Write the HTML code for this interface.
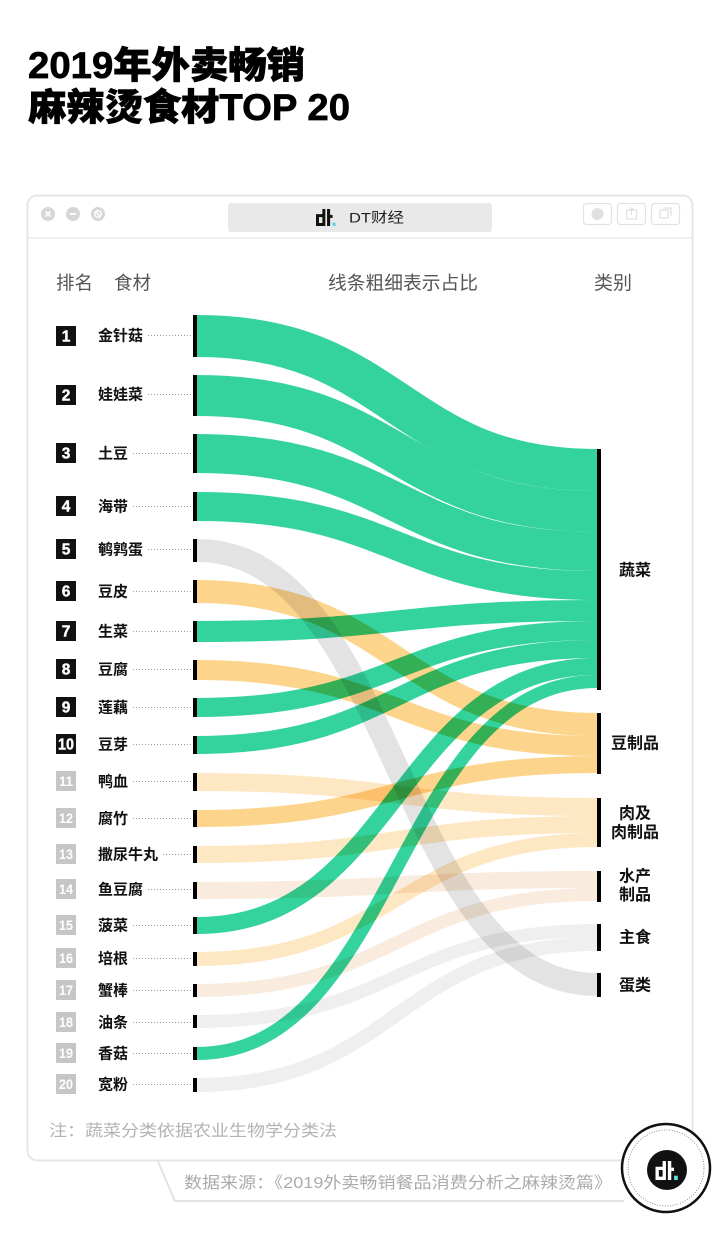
<!DOCTYPE html>
<html>
<head>
<meta charset="utf-8">
<style>
  html,body{margin:0;padding:0;background:#fff;}
  svg{display:block;}
  text{font-family:"Liberation Sans","Noto Sans CJK SC",sans-serif;}
</style>
</head>
<body>
<svg width="720" height="1235" viewBox="0 0 720 1235" xmlns="http://www.w3.org/2000/svg">
  <rect x="0" y="0" width="720" height="1235" fill="#fff"/>

  <!-- Title -->
  <text x="28" y="78" font-size="37" font-weight="900" fill="#000" stroke="#000" stroke-width="0.7" textLength="277" lengthAdjust="spacingAndGlyphs">2019年外卖畅销</text>
  <text x="28" y="120" font-size="37" font-weight="900" fill="#000" stroke="#000" stroke-width="0.7" textLength="322" lengthAdjust="spacingAndGlyphs">麻辣烫食材TOP 20</text>

  <!-- Window frame -->
  <rect x="27.5" y="195.5" width="665" height="965" rx="10" ry="10" fill="#fff" stroke="#e6e6e6" stroke-width="2"/>
  <line x1="28.5" y1="238" x2="691.5" y2="238" stroke="#ececec" stroke-width="1.5"/>

  <!-- traffic lights -->
  <g>
    <circle cx="48" cy="214" r="7" fill="#d6d6d6"/>
    <path d="M45.5 211.5 L50.5 216.5 M50.5 211.5 L45.5 216.5" stroke="#fff" stroke-width="1.6"/>
    <circle cx="73" cy="214" r="7" fill="#d6d6d6"/>
    <path d="M69.8 214 L76.2 214" stroke="#fff" stroke-width="1.8"/>
    <circle cx="98" cy="214" r="7" fill="#d6d6d6"/>
    <circle cx="98" cy="214" r="3.3" fill="none" stroke="#fff" stroke-width="1.4"/>
    <path d="M95.8 211.8 L100.2 216.2" stroke="#fff" stroke-width="1.4"/>
  </g>

  <!-- address bar -->
  <rect x="228" y="203" width="264" height="29" rx="3" fill="#e9e9e9"/>
  <g transform="translate(316,209) scale(0.85)">
    <path d="M0 6 H11 V20 H0 Z M3.5 9.5 V16.5 H7.5 V9.5 Z" fill="#111" fill-rule="evenodd"/>
    <rect x="7.5" y="0" width="3.5" height="7" fill="#111"/>
    <rect x="13" y="0" width="3.6" height="20" fill="#111"/>
    <rect x="16.5" y="7" width="3" height="3.5" fill="#111"/>
    <rect x="19.5" y="16" width="3.5" height="4" fill="#4fd8e0"/>
  </g>
  <text x="349" y="222.5" font-size="14" fill="#222" textLength="55" lengthAdjust="spacingAndGlyphs">DT财经</text>

  <!-- right buttons -->
  <g fill="none" stroke="#e2e2e2" stroke-width="1.2">
    <rect x="583.5" y="203.5" width="28" height="21" rx="3"/>
    <rect x="617.5" y="203.5" width="28" height="21" rx="3"/>
    <rect x="651.5" y="203.5" width="28" height="21" rx="3"/>
  </g>
  <circle cx="597.5" cy="214" r="6" fill="#e0e0e0"/>
  <path d="M626.5 210 h10 v9 h-10 z M631.5 208 v7 M628.8 210.5 l2.7 -2.7 l2.7 2.7" fill="none" stroke="#e0e0e0" stroke-width="1.2"/>
  <path d="M660 210 h8 v8 h-8 z M663 208 h8 v8" fill="none" stroke="#e0e0e0" stroke-width="1.2"/>

  <!-- header row -->
  <text x="56" y="289.5" font-size="18.5" fill="#555" textLength="37" lengthAdjust="spacingAndGlyphs">排名</text>
  <text x="114" y="289.5" font-size="18.5" fill="#555" textLength="37" lengthAdjust="spacingAndGlyphs">食材</text>
  <text x="328" y="289.5" font-size="18.5" fill="#555" textLength="150" lengthAdjust="spacingAndGlyphs">线条粗细表示占比</text>
  <text x="594" y="289.5" font-size="18.5" fill="#555" textLength="38" lengthAdjust="spacingAndGlyphs">类别</text>

  <!-- Flows (multiply blend) -->
  <g fill="none" style="isolation:isolate">
    <g style="mix-blend-mode:multiply">
      <path d="M197 336 C397 336 397 470 597 470" stroke="#34d39d" stroke-width="42"/>
      <path d="M197 395.5 C397 395.5 397 511.5 597 511.5" stroke="#34d39d" stroke-width="41"/>
      <path d="M197 453.5 C397 453.5 397 551.5 597 551.5" stroke="#34d39d" stroke-width="39"/>
      <path d="M197 506.5 C397 506.5 397 585.5 597 585.5" stroke="#34d39d" stroke-width="29"/>
    </g>
    <path style="mix-blend-mode:multiply" d="M197 631.5 C397 631.5 397 610.5 597 610.5" stroke="#34d39d" stroke-width="21"/>
    <path style="mix-blend-mode:multiply" d="M197 707.5 C397 707.5 397 630.5 597 630.5" stroke="#34d39d" stroke-width="19"/>
    <path style="mix-blend-mode:multiply" d="M197 745 C397 745 397 649 597 649" stroke="#34d39d" stroke-width="18"/>
    <path style="mix-blend-mode:multiply" d="M197 925.5 C397 925.5 397 666.5 597 666.5" stroke="#34d39d" stroke-width="17"/>
    <path style="mix-blend-mode:multiply" d="M197 1053.5 C397 1053.5 397 681.5 597 681.5" stroke="#34d39d" stroke-width="13"/>
    <path style="mix-blend-mode:multiply" d="M197 591.5 C397 591.5 397 724.5 597 724.5" stroke="#fdd48b" stroke-width="23"/>
    <path style="mix-blend-mode:multiply" d="M197 670 C397 670 397 746 597 746" stroke="#fdd48b" stroke-width="20"/>
    <path style="mix-blend-mode:multiply" d="M197 818.5 C397 818.5 397 764.5 597 764.5" stroke="#fdd48b" stroke-width="17"/>
    <path style="mix-blend-mode:multiply" d="M197 782 C397 782 397 807 597 807" stroke="#fee7c3" stroke-width="18"/>
    <path style="mix-blend-mode:multiply" d="M197 854.5 C397 854.5 397 824.5 597 824.5" stroke="#fee7c3" stroke-width="17"/>
    <path style="mix-blend-mode:multiply" d="M197 959 C397 959 397 840 597 840" stroke="#fee7c3" stroke-width="14"/>
    <path style="mix-blend-mode:multiply" d="M197 890.5 C397 890.5 397 879.5 597 879.5" stroke="#f9ebdd" stroke-width="17"/>
    <path style="mix-blend-mode:multiply" d="M197 990.5 C397 990.5 397 894.5 597 894.5" stroke="#f9ebdd" stroke-width="13"/>
    <path style="mix-blend-mode:multiply" d="M197 1021.5 C397 1021.5 397 930.5 597 930.5" stroke="#efefef" stroke-width="13"/>
    <path style="mix-blend-mode:multiply" d="M197 1085 C397 1085 397 944 597 944" stroke="#efefef" stroke-width="14"/>
    <path style="mix-blend-mode:multiply" d="M197 550.5 C397 550.5 397 984.5 597 984.5" stroke="#e3e3e3" stroke-width="23"/>
  </g>

  <!-- left node bars -->
  <g fill="#000">
    <rect x="193" y="315" width="4" height="42"/>
    <rect x="193" y="375" width="4" height="41"/>
    <rect x="193" y="434" width="4" height="39"/>
    <rect x="193" y="492" width="4" height="29"/>
    <rect x="193" y="539" width="4" height="23"/>
    <rect x="193" y="580" width="4" height="23"/>
    <rect x="193" y="621" width="4" height="21"/>
    <rect x="193" y="660" width="4" height="20"/>
    <rect x="193" y="698" width="4" height="19"/>
    <rect x="193" y="736" width="4" height="18"/>
    <rect x="193" y="773" width="4" height="18"/>
    <rect x="193" y="810" width="4" height="17"/>
    <rect x="193" y="846" width="4" height="17"/>
    <rect x="193" y="882" width="4" height="17"/>
    <rect x="193" y="917" width="4" height="17"/>
    <rect x="193" y="952" width="4" height="14"/>
    <rect x="193" y="984" width="4" height="13"/>
    <rect x="193" y="1015" width="4" height="13"/>
    <rect x="193" y="1047" width="4" height="13"/>
    <rect x="193" y="1078" width="4" height="14"/>
  </g>

  <!-- right node bars -->
  <g fill="#000">
    <rect x="597" y="449" width="4" height="241"/>
    <rect x="597" y="713" width="4" height="61"/>
    <rect x="597" y="798" width="4" height="49"/>
    <rect x="597" y="871" width="4" height="31"/>
    <rect x="597" y="924" width="4" height="27"/>
    <rect x="597" y="973" width="4" height="24"/>
  </g>

  <!-- right labels -->
  <g font-size="16" font-weight="bold" fill="#111" text-anchor="middle">
    <text x="635" y="575.5">蔬菜</text>
    <text x="635" y="748.5">豆制品</text>
    <text x="635" y="818.5">肉及</text>
    <text x="635" y="837.5">肉制品</text>
    <text x="635" y="881.5">水产</text>
    <text x="635" y="900">制品</text>
    <text x="635" y="942.5">主食</text>
    <text x="635" y="990.5">蛋类</text>
  </g>

  <!-- rank badges -->
  <g>
    <rect x="56" y="326" width="20" height="20" fill="#111"/>
    <rect x="56" y="385" width="20" height="20" fill="#111"/>
    <rect x="56" y="443" width="20" height="20" fill="#111"/>
    <rect x="56" y="496" width="20" height="20" fill="#111"/>
    <rect x="56" y="539" width="20" height="20" fill="#111"/>
    <rect x="56" y="581" width="20" height="20" fill="#111"/>
    <rect x="56" y="621" width="20" height="20" fill="#111"/>
    <rect x="56" y="659" width="20" height="20" fill="#111"/>
    <rect x="56" y="697" width="20" height="20" fill="#111"/>
    <rect x="56" y="734" width="20" height="20" fill="#111"/>
    <rect x="56" y="771" width="20" height="20" fill="#c6c6c6"/>
    <rect x="56" y="808" width="20" height="20" fill="#c6c6c6"/>
    <rect x="56" y="844" width="20" height="20" fill="#c6c6c6"/>
    <rect x="56" y="879" width="20" height="20" fill="#c6c6c6"/>
    <rect x="56" y="915" width="20" height="20" fill="#c6c6c6"/>
    <rect x="56" y="948" width="20" height="20" fill="#c6c6c6"/>
    <rect x="56" y="980" width="20" height="20" fill="#c6c6c6"/>
    <rect x="56" y="1012" width="20" height="20" fill="#c6c6c6"/>
    <rect x="56" y="1043" width="20" height="20" fill="#c6c6c6"/>
    <rect x="56" y="1074" width="20" height="20" fill="#c6c6c6"/>
  </g>
  <g font-size="15.5" font-weight="bold" fill="#fff" text-anchor="middle" stroke="#fff" stroke-width="0.4">
    <text x="66" y="341.5">1</text>
    <text x="66" y="400.5">2</text>
    <text x="66" y="458.5">3</text>
    <text x="66" y="511.5">4</text>
    <text x="66" y="554.5">5</text>
    <text x="66" y="596.5">6</text>
    <text x="66" y="636.5">7</text>
    <text x="66" y="674.5">8</text>
    <text x="66" y="712.5">9</text>
    <text x="66" y="749.5" textLength="16" lengthAdjust="spacingAndGlyphs">10</text>
  </g>
  <g font-size="14" font-weight="bold" fill="#fff" text-anchor="middle">
    <text x="66" y="786" textLength="14" lengthAdjust="spacingAndGlyphs">11</text>
    <text x="66" y="823" textLength="14" lengthAdjust="spacingAndGlyphs">12</text>
    <text x="66" y="859" textLength="14" lengthAdjust="spacingAndGlyphs">13</text>
    <text x="66" y="894" textLength="14" lengthAdjust="spacingAndGlyphs">14</text>
    <text x="66" y="930" textLength="14" lengthAdjust="spacingAndGlyphs">15</text>
    <text x="66" y="963" textLength="14" lengthAdjust="spacingAndGlyphs">16</text>
    <text x="66" y="995" textLength="14" lengthAdjust="spacingAndGlyphs">17</text>
    <text x="66" y="1027" textLength="14" lengthAdjust="spacingAndGlyphs">18</text>
    <text x="66" y="1058" textLength="14" lengthAdjust="spacingAndGlyphs">19</text>
    <text x="66" y="1089" textLength="14" lengthAdjust="spacingAndGlyphs">20</text>
  </g>

  <!-- item names -->
  <g font-size="15" font-weight="bold" fill="#111">
    <text x="98" y="340.5">金针菇</text>
    <text x="98" y="399.5">娃娃菜</text>
    <text x="98" y="458.5">土豆</text>
    <text x="98" y="511.5">海带</text>
    <text x="98" y="554.5">鹌鹑蛋</text>
    <text x="98" y="596.5">豆皮</text>
    <text x="98" y="636.5">生菜</text>
    <text x="98" y="674.5">豆腐</text>
    <text x="98" y="712.5">莲藕</text>
    <text x="98" y="749.5">豆芽</text>
    <text x="98" y="786.5">鸭血</text>
    <text x="98" y="823.5">腐竹</text>
    <text x="98" y="859.5">撒尿牛丸</text>
    <text x="98" y="894.5">鱼豆腐</text>
    <text x="98" y="930.5">菠菜</text>
    <text x="98" y="963.5">培根</text>
    <text x="98" y="995.5">蟹棒</text>
    <text x="98" y="1027.5">油条</text>
    <text x="98" y="1058.5">香菇</text>
    <text x="98" y="1089.5">宽粉</text>
  </g>

  <!-- leader dots -->
  <g stroke="#9a9a9a" stroke-width="1" stroke-dasharray="1 2">
    <line x1="148" y1="335.5" x2="191" y2="335.5"/>
    <line x1="148" y1="394.5" x2="191" y2="394.5"/>
    <line x1="133" y1="453.5" x2="191" y2="453.5"/>
    <line x1="133" y1="506.5" x2="191" y2="506.5"/>
    <line x1="148" y1="549.5" x2="191" y2="549.5"/>
    <line x1="133" y1="591.5" x2="191" y2="591.5"/>
    <line x1="133" y1="631.5" x2="191" y2="631.5"/>
    <line x1="133" y1="669.5" x2="191" y2="669.5"/>
    <line x1="133" y1="707.5" x2="191" y2="707.5"/>
    <line x1="133" y1="744.5" x2="191" y2="744.5"/>
    <line x1="133" y1="781.5" x2="191" y2="781.5"/>
    <line x1="133" y1="818.5" x2="191" y2="818.5"/>
    <line x1="163" y1="854.5" x2="191" y2="854.5"/>
    <line x1="148" y1="889.5" x2="191" y2="889.5"/>
    <line x1="133" y1="925.5" x2="191" y2="925.5"/>
    <line x1="133" y1="958.5" x2="191" y2="958.5"/>
    <line x1="133" y1="990.5" x2="191" y2="990.5"/>
    <line x1="133" y1="1022.5" x2="191" y2="1022.5"/>
    <line x1="133" y1="1053.5" x2="191" y2="1053.5"/>
    <line x1="133" y1="1084.5" x2="191" y2="1084.5"/>
  </g>

  <!-- note -->
  <text x="49" y="1136" font-size="16" fill="#b3b3b3" textLength="288" lengthAdjust="spacingAndGlyphs">注：蔬菜分类依据农业生物学分类法</text>

  <!-- source tab -->
  <path d="M158 1161.5 L175 1201 L624 1201" fill="none" stroke="#e3e3e3" stroke-width="2"/>
  <text x="184" y="1188" font-size="16" fill="#ababab" textLength="428" lengthAdjust="spacingAndGlyphs">数据来源：《2019外卖畅销餐品消费分析之麻辣烫篇》</text>

  <!-- circle logo -->
  <circle cx="666" cy="1168" r="44" fill="#fff" stroke="#111" stroke-width="2.5"/>
  <circle cx="666" cy="1168" r="38" fill="none" stroke="#777" stroke-width="0.8" stroke-dasharray="1 1.6"/>
  <circle cx="667" cy="1170" r="20" fill="#111"/>
  <g transform="translate(655.5,1161) scale(0.95)">
    <path d="M0 6 H11 V20 H0 Z M3.5 9.5 V16.5 H7.5 V9.5 Z" fill="#fff" fill-rule="evenodd"/>
    <rect x="7.5" y="0" width="3.5" height="7" fill="#fff"/>
    <rect x="13" y="0" width="3.6" height="20" fill="#fff"/>
    <rect x="16.5" y="7" width="3" height="3.5" fill="#fff"/>
    <rect x="19.5" y="15.5" width="4" height="4.5" fill="#5fdde4"/>
  </g>
</svg>
</body>
</html>
